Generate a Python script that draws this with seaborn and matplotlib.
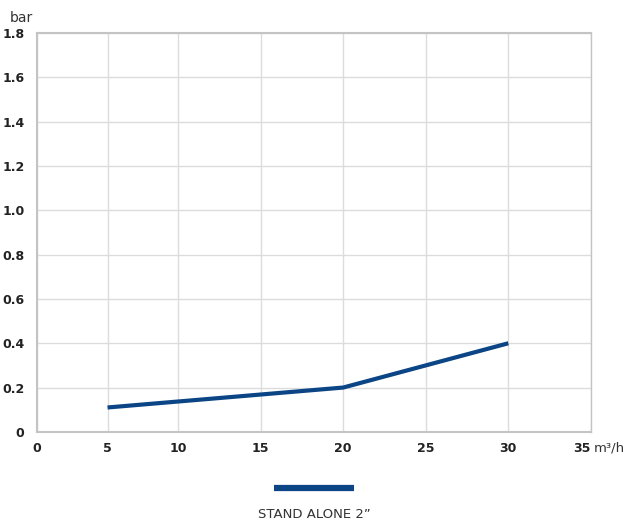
import numpy as np
import pandas as pd
import seaborn as sns
import matplotlib.pyplot as plt
from matplotlib.lines import Line2D

# values
flow = [5, 20, 30]
pressure = [0.11, 0.2, 0.4]
x_ticks = [0, 5, 10, 15, 20, 25, 30, 35]
y_ticks = [0, 0.2, 0.4, 0.6, 0.8, 1.0, 1.2, 1.4, 1.6, 1.8]
y_tick_labels = ['0', '0.2', '0.4', '0.6', '0.8', '1.0', '1.2', '1.4', '1.6', '1.8']
series_name = 'STAND ALONE 2\u201d'

line_color = '#0b4585'
grid_color = '#dcdcdc'
frame_color = '#c4c4c4'

sns.set_theme(style='white')
plt.rcParams['font.family'] = ['DejaVu Sans']

df = pd.DataFrame({'flow': flow, 'pressure': pressure})

fig = plt.figure(figsize=(6.28, 5.26), dpi=100)
ax = fig.add_axes([0.059, 0.179, 0.882, 0.758])

# the original x axis is slightly compressed between 0 and 10
def fwd(x):
    return np.interp(x, [0, 10, 35], [0, 141, 554], left=-1e9, right=1e9)

def inv(x):
    return np.interp(x, [0, 141, 554], [0, 10, 35])

ax.set_xscale('function', functions=(fwd, inv))

sns.lineplot(data=df, x='flow', y='pressure', ax=ax, color=line_color,
             linewidth=3, solid_capstyle='butt')

ax.set_xlim(0, 35)
ax.set_ylim(0, 1.8)
ax.set_xticks(x_ticks)
ax.set_xticklabels([str(t) for t in x_ticks], fontsize=9, fontweight='bold', color='#222222')
ax.get_xticklabels()[-1].set_ha('right')
ax.set_yticks(y_ticks)
ax.set_yticklabels(y_tick_labels, fontsize=9, fontweight='bold', color='#222222')
ax.tick_params(axis='x', length=0, pad=7)
ax.tick_params(axis='y', length=0, pad=9)
ax.grid(True, color=grid_color, linewidth=1)
ax.set_xlabel('')
ax.set_ylabel('')
for side in ['left', 'bottom', 'top', 'right']:
    ax.spines[side].set_color(frame_color)
    ax.spines[side].set_linewidth(1.5)
ax.spines['right'].set_linewidth(1)

fig.text(0.016, 0.965, 'bar', fontsize=10, color='#333333', ha='left', va='center')
fig.text(0.946, 0.148, 'm\u00b3/h', fontsize=9.5, color='#333333', ha='left', va='center')

handle = Line2D([], [], color=line_color, linewidth=4.5, solid_capstyle='butt')
fig.legend(handles=[handle], labels=[''], loc='center', bbox_to_anchor=(0.5, 0.07),
           frameon=False, handlelength=5.2, handletextpad=0, borderpad=0)
fig.text(0.5, 0.021, series_name, fontsize=9.5, color='#333333', ha='center', va='center')

fig.savefig('out.png', dpi=100)
